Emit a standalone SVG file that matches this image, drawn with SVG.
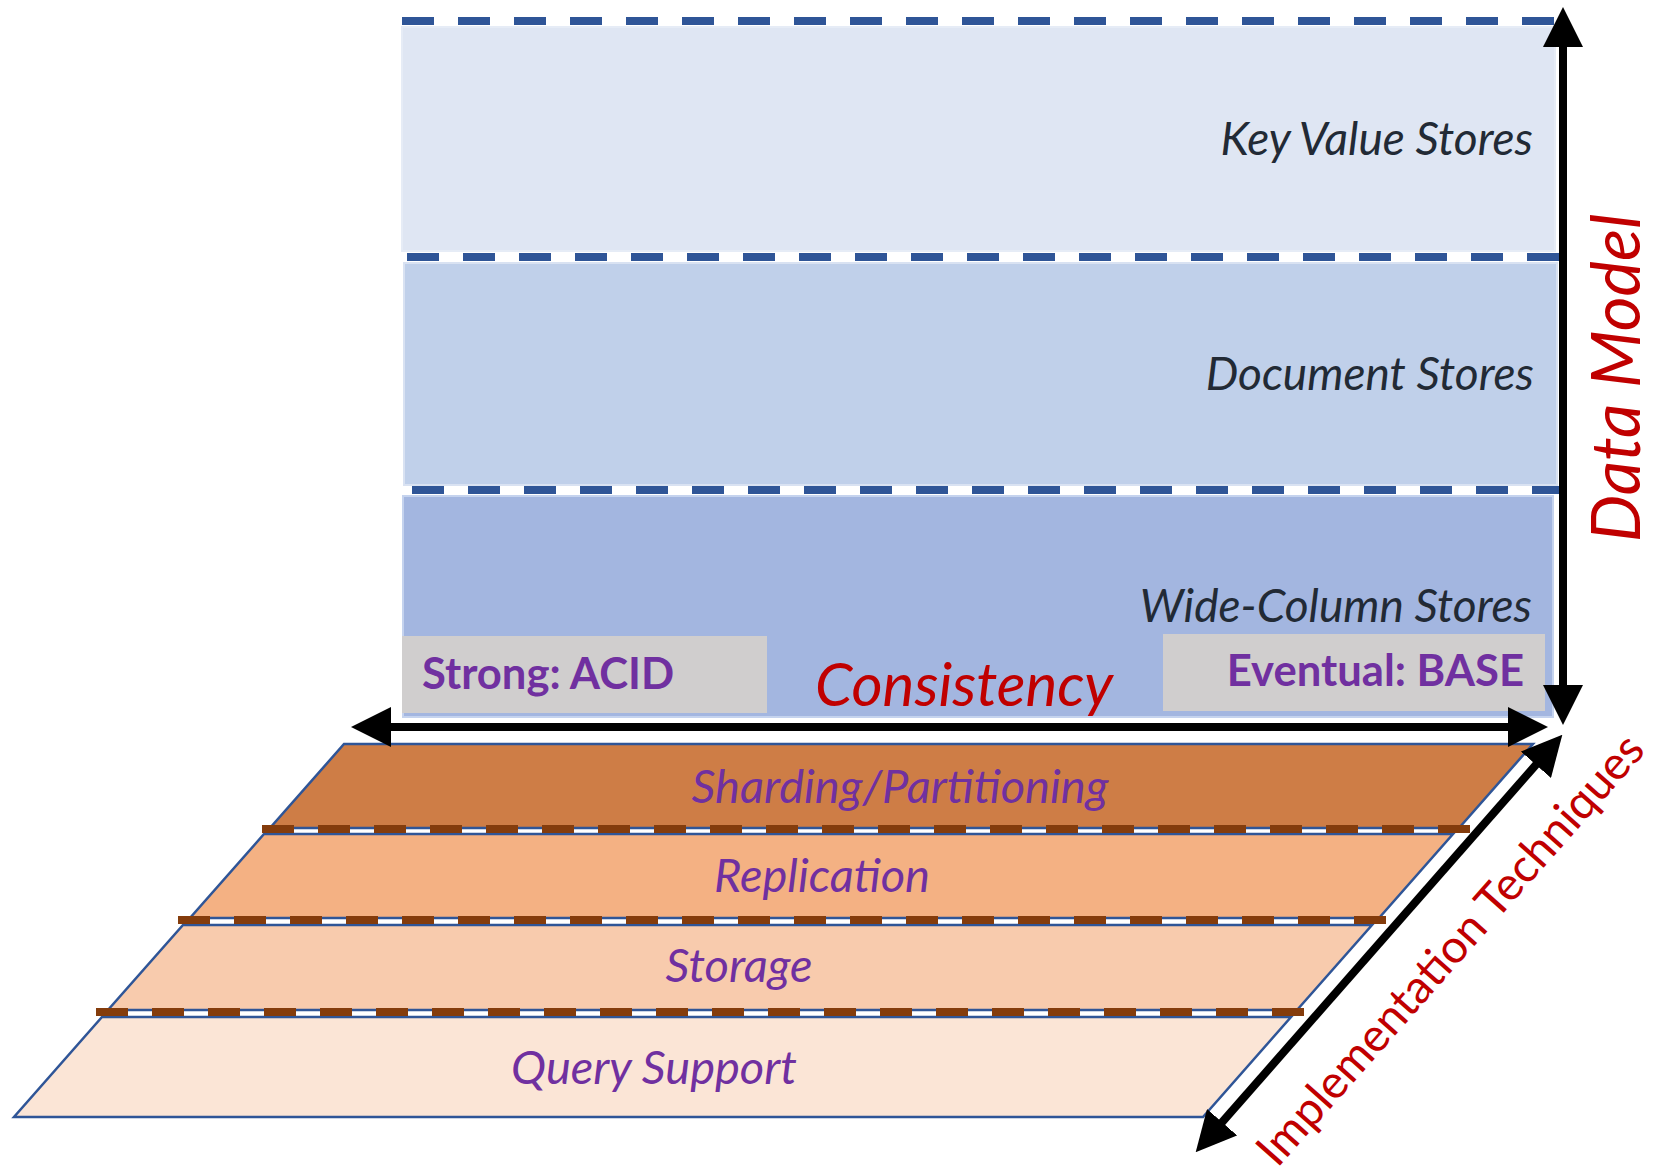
<svg xmlns="http://www.w3.org/2000/svg" width="1653" height="1174" viewBox="0 0 1653 1174">
  <defs>
    <marker id="head" viewBox="0 0 40 40" markerUnits="userSpaceOnUse" markerWidth="40" markerHeight="40" refX="1" refY="20" orient="auto-start-reverse">
      <path d="M0,0 L40,20 L0,40 z" fill="#000"/>
    </marker>
  </defs>
  <style>
    .store { font-family: Lato, "Open Sans", sans-serif; font-style: italic; font-size: 46px; fill: #222A35; text-anchor: end; }
    .cons { font-family: Lato, "Open Sans", sans-serif; font-weight: bold; font-size: 43.6px; fill: #7030A0; }
    .layerlbl { font-family: Lato, "Open Sans", sans-serif; font-style: italic; font-size: 47px; fill: #7030A0; text-anchor: middle; }
    .axis { font-family: Lato, "Open Sans", sans-serif; fill: #C00000; text-anchor: middle; }
    .bdash { stroke: #2F5597; stroke-width: 8; stroke-dasharray: 32 24; fill: none; }
    .odash { stroke: #843C0C; stroke-width: 8; stroke-dasharray: 32 24; fill: none; }
    .layer { stroke: #2F5597; stroke-width: 2.5; }
    .shaft { stroke: #000; stroke-width: 8; fill: none; marker-start: url(#head); marker-end: url(#head); }
    .graybox { fill: #D0CECE; }
  </style>

  <!-- Data model boxes -->
  <g id="box-keyvalue">
    <rect x="402" y="27" width="1153" height="224" fill="#DFE6F3" stroke="#E6ECF6" stroke-width="2"/>
    <polygon points="1555,30 1555,46 1543,46" fill="#BFC5CF"/>
    <text class="store" x="1533" y="155">Key Value Stores</text>
  </g>
  <g id="box-document">
    <rect x="404" y="263" width="1153" height="222" fill="#C0D0EA" stroke="#D9E2F2" stroke-width="2"/>
    <text class="store" x="1534" y="390">Document Stores</text>
  </g>
  <g id="box-widecolumn">
    <rect x="403" y="496" width="1150" height="221" fill="#A3B6E0" stroke="#C5D3EE" stroke-width="2"/>
    <text class="store" x="1532" y="622">Wide-Column Stores</text>
  </g>

  <g id="dividers-data">
    <line class="bdash" x1="402" y1="21" x2="1555" y2="21"/>
    <line class="bdash" x1="407" y1="257" x2="1559" y2="257"/>
    <line class="bdash" x1="412" y1="490" x2="1563" y2="490" stroke-width="7"/>
  </g>

  <g id="label-strong">
    <rect class="graybox" x="402" y="636" width="365" height="77"/>
    <text class="cons" x="422" y="689">Strong: ACID</text>
  </g>
  <g id="label-eventual">
    <rect class="graybox" x="1163" y="634" width="382" height="77"/>
    <text class="cons" x="1524" y="686" text-anchor="end">Eventual: BASE</text>
  </g>

  <!-- Implementation layers -->
  <g id="layer-sharding">
    <polygon class="layer" fill="#CE7D46" points="344,744 1533,744 1459,828 270,828"/>
    <text class="layerlbl" x="900" y="803">Sharding/Partitioning</text>
  </g>
  <g id="layer-replication">
    <polygon class="layer" fill="#F4B183" points="264,834 1453,834 1379,918 190,918"/>
    <text class="layerlbl" x="822" y="892">Replication</text>
  </g>
  <g id="layer-storage">
    <polygon class="layer" fill="#F8CBAD" points="183,925 1372,925 1297,1010 108,1010"/>
    <text class="layerlbl" x="739" y="982">Storage</text>
  </g>
  <g id="layer-query">
    <polygon class="layer" fill="#FBE5D6" points="102,1017 1291,1017 1203,1117 14,1117"/>
    <text class="layerlbl" x="654" y="1084">Query Support</text>
  </g>

  <g id="dividers-layers">
    <line class="odash" x1="262" y1="829" x2="1470" y2="829"/>
    <line class="odash" x1="178" y1="920" x2="1386" y2="920"/>
    <line class="odash" x1="96" y1="1012" x2="1304" y2="1012"/>
  </g>

  <!-- Axes (connectors) -->
  <g id="connectors">
    <line class="shaft" x1="390" y1="727" x2="1509" y2="727"/>
    <line class="shaft" x1="1563" y1="46" x2="1563" y2="686"/>
    <line class="shaft" x1="1221.4" y1="1123" x2="1536.6" y2="764"/>
  </g>

  <g id="axis-labels">
    <text class="axis" x="964" y="706" font-size="60" font-style="italic">Consistency</text>
    <text class="axis" transform="translate(1640,378) rotate(-90)" font-size="67" font-style="italic">Data Model</text>
    <text class="axis" transform="translate(1462,960) rotate(-48.5)" font-size="46.3">Implementation Techniques</text>
  </g>
</svg>
